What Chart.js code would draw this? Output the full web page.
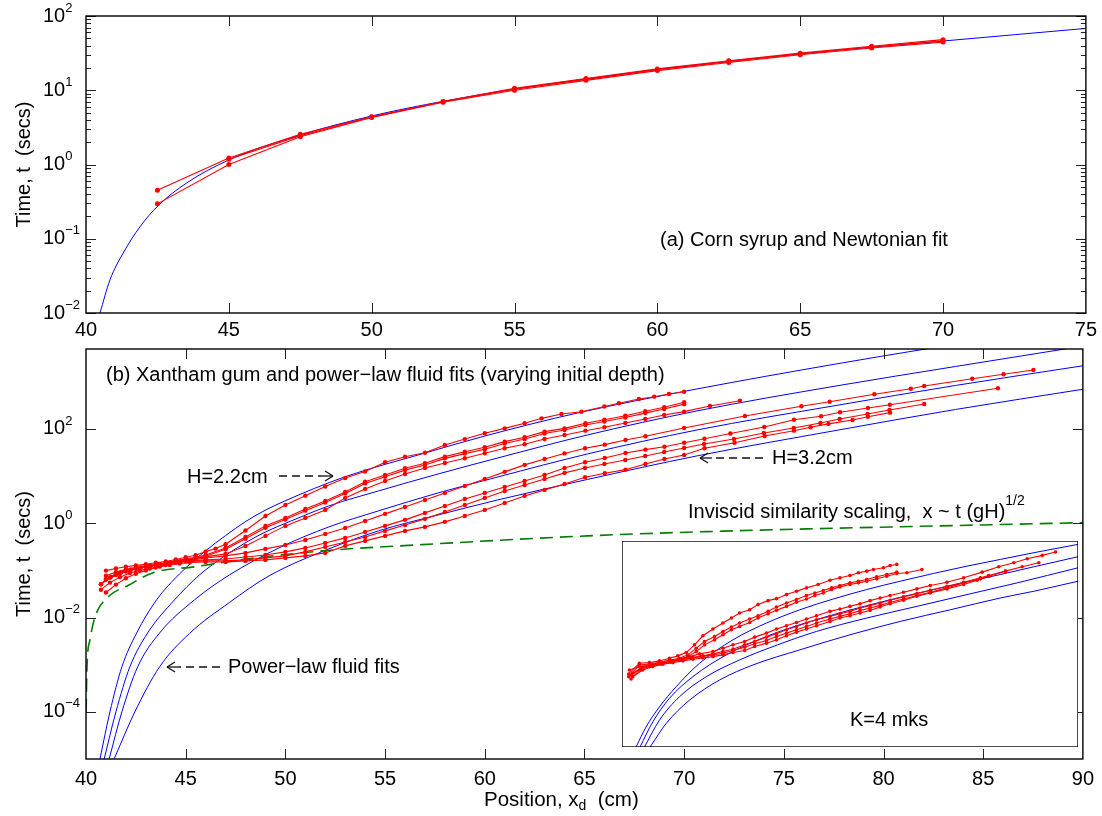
<!DOCTYPE html>
<html>
<head>
<meta charset="utf-8">
<script src="https://cdn.jsdelivr.net/npm/chart.js@4.4.1/dist/chart.umd.min.js"></script>
<style>
  body { margin: 0; background: #fff; }
  #wrap { position: relative; width: 1102px; height: 816px; }
  canvas { position: absolute; }
  #cTop { left: 0; top: 0; }
  #cBot { left: 0; top: 340px; }
  #cIn { left: 622px; top: 541px; }
</style>
</head>
<body>
<div id="wrap">
  <canvas id="cTop" width="1102" height="340"></canvas>
  <canvas id="cBot" width="1102" height="476"></canvas>
  <canvas id="cIn" width="456" height="206"></canvas>
</div>
<script>
// ---- (a) corn syrup: [position cm, time s]
const cornRunA = [[42.5,0.45],[45,1.22],[47.5,2.55],[50,4.4],[52.5,7.0],[55,10.3],[57.5,14.0],[60,18.9],[62.5,24.3],[65,30.8],[67.5,38.2],[70,46.5]];
const cornRunB = [[42.5,0.295],[45,1.0],[47.5,2.37],[50,4.3],[52.5,6.9],[55,10.0],[57.5,13.6],[60,18.4],[62.5,23.7],[65,30.0],[67.5,37.0],[70,44.5]];
const cornRunC = [[45,1.18],[47.5,2.45],[50,4.35],[52.5,7.05],[55,10.6],[57.5,14.4],[60,19.4],[62.5,25.0],[65,31.6],[67.5,39.2],[70,48.0]];
const cornFit = [[40.49,0.01],[40.84,0.028],[41.3,0.064],[41.89,0.145],[42.53,0.28],[43.52,0.563],[45,1.15],[47.5,2.5],[50,4.5],[52.5,7.1],[55,10.4],[57.5,14.2],[60,19],[62.5,24.5],[65,31],[67.5,38],[70,46],[72.5,56],[75,68]];

// ---- (b) xantham gum runs
const gumH22 = [[41.0,0.099],[41.5,0.11],[42,0.12],[42.5,0.128],[43,0.135],[43.5,0.145],[44,0.155],[44.5,0.17],[45,0.19],[45.5,0.21],[46,0.25],[46.5,0.29],[47,0.36],[48,0.7],[49,1.43],[50,2.45],[51,3.85],[52,6.0],[53,9.1],[54,12.5],[55,19.7],[56,25.8],[57,31.4],[58,45.8],[59,61],[60,81],[61,103],[62,132],[62.85,168],[63.85,208],[64.85,232],[66,300],[66.73,350],[67.73,432],[68.5,484],[69.24,552],[70,617]];
const gumB1 = [[40.75,0.051],[41,0.065],[41.5,0.085],[42,0.1],[42.5,0.11],[43,0.12],[43.5,0.13],[44,0.145],[44.5,0.16],[45,0.175],[45.5,0.19],[46,0.213],[47,0.30],[48,0.513],[49,0.88],[50,1.30],[51,2.01],[52,2.98],[53,4.62],[54,7.63],[55,10.6],[56,14.7],[57,18.7],[58,25.9],[59,33.0],[60,40.9],[61,53.8],[62,66.7],[63,87.7],[64,103],[65.05,132],[66,157],[67.05,191],[68.05,237],[69,288],[70,368]];
const gumB2 = [[41,0.063],[41.5,0.08],[42,0.095],[42.5,0.108],[43,0.118],[43.5,0.128],[44,0.14],[44.5,0.155],[45,0.17],[45.5,0.185],[46,0.2],[47,0.28],[48,0.47],[49,0.8],[50,1.2],[51,1.85],[52,2.75],[53,4.3],[54,7.0],[55,9.7],[56,13.4],[57,17.2],[58,23.8],[59,30],[60,37],[61,49],[62,61],[63,80],[64,95],[65.05,121],[66,144],[67.05,175],[68.05,217],[69,264],[70,336]];
const gumB3 = [[41,0.034],[41.5,0.05],[42,0.068],[42.5,0.085],[43,0.1],[43.5,0.115],[44,0.13],[44.5,0.148],[45,0.165],[45.5,0.18],[46,0.194],[47,0.224],[48,0.33],[49,0.54],[50,0.88],[51,1.30],[52,1.92],[53,3.45],[54,5.35],[55,7.9],[56,11.1],[57,14.9],[58,19.0],[59,23.9],[60,30.5],[61,39],[62,47.4],[63,61.4],[64,74.6],[65.05,92],[66,109],[67.05,134],[68.05,163],[69,198],[70,233],[71.3,307],[72.8,398]];
const gumC1 = [[40.75,0.051],[41.2,0.07],[41.7,0.085],[42.2,0.1],[42.7,0.112],[43.2,0.125],[43.7,0.135],[44.2,0.145],[44.7,0.155],[45.2,0.165],[46,0.184],[47,0.203],[48,0.235],[49,0.286],[50,0.347],[51,0.443],[52,0.594],[53,0.796],[54,1.12],[55,1.58],[56,2.22],[57,3.12],[58,4.40],[59,6.19],[60,8.7],[61,12.3],[62,17.3],[63,23.1],[64,30.3],[65.03,39],[66.02,46.5],[67.06,58.5],[68.06,70],[70,105],[73.05,188],[75.88,303],[77.3,379],[79.54,544],[81.37,715],[82.04,816],[84.45,1165],[86.02,1445],[87.52,1782]];
const gumC2 = [[41.25,0.073],[41.75,0.09],[42.25,0.105],[42.75,0.115],[43.25,0.125],[43.75,0.135],[44.25,0.145],[44.75,0.155],[45.25,0.16],[46,0.167],[47,0.175],[48,0.193],[49,0.213],[50,0.247],[51,0.30],[52,0.383],[53,0.489],[54,0.654],[55,0.88],[56,1.18],[57,1.66],[58,2.33],[59,3.28],[60,4.40],[61,5.9],[62,7.9],[63,10.6],[64,14.9],[65.03,19.7],[66.02,24.3],[67.06,31],[68.06,36.4],[69.01,42],[70,51],[71.02,62],[72.32,80],[74.02,110],[75.51,157],[76.87,186],[77.82,226],[79.22,279],[80.32,327],[85.74,729]];
const gumC3 = [[41,0.077],[41.5,0.092],[42,0.105],[42.5,0.115],[43,0.125],[43.5,0.133],[44,0.14],[44.5,0.148],[45,0.155],[46,0.159],[47,0.159],[48,0.167],[49,0.184],[50,0.203],[51,0.247],[52,0.315],[53,0.402],[54,0.513],[55,0.689],[56,0.92],[57,1.24],[58,1.74],[59,2.45],[60,3.45],[61,4.85],[62,6.5],[63,8.7],[64,11.7],[65.03,14.9],[66,18.1],[67.05,22],[68.05,26.8],[69,32.5],[70,39.6],[71,48],[72.5,61.4],[74,82],[75.5,105],[76.83,134],[77.8,163],[79.2,208],[80.3,253],[82.04,339]];
const gumC4 = [[40.75,0.039],[41.2,0.055],[41.7,0.072],[42.2,0.088],[42.7,0.1],[43.2,0.11],[43.7,0.12],[44.2,0.13],[44.7,0.14],[45.2,0.148],[46,0.151],[47,0.151],[48,0.159],[49,0.167],[50,0.184],[51,0.203],[52,0.235],[53,0.331],[54,0.423],[55,0.54],[56,0.689],[57,0.837],[58,1.07],[59,1.43],[60,1.92],[61,2.70],[62,3.80],[63,5.1],[64,6.8],[65.03,9.5],[66.02,11.5],[67.06,13.7],[68.06,18.1],[69.01,23.1],[70,28.1],[71.02,39],[72.53,51],[74.04,71],[75.51,92],[76.34,109],[77.24,128],[78.45,155],[79.22,182],[80.33,222]];

// power-law fits, H = 2.2 ... 3.2 cm
const fitH1 = [[40.70,1e-5],[41.20,1e-4],[41.80,9.0e-4],[42.54,4.7e-3],[43.54,0.0237],[44.69,0.0841],[45.99,0.259],[46.99,0.544],[47.98,1.07],[48.98,1.88],[49.98,2.98],[52.97,9.6],[57.02,31],[60.01,71],[64.65,218],[70.64,705],[77.62,2390],[82.12,4970],[85.61,8490]];
const fitH2 = [[40.91,1e-5],[41.50,1e-4],[42.20,9.0e-4],[43.09,4.7e-3],[44.44,0.0237],[45.69,0.080],[46.84,0.186],[47.98,0.383],[49.08,0.678],[50.18,1.07],[52.18,2.33],[54.67,4.85],[57.66,11.1],[60.66,24.3],[65.15,74.6],[70.64,241],[77.62,816],[83.61,2113],[89.10,4970],[90.6,6340]];
const fitH3 = [[41.16,1e-5],[41.80,1e-4],[42.59,9.0e-4],[43.69,4.7e-3],[45.44,0.0237],[47.19,0.080],[49.68,0.30],[52.18,0.836],[54.67,1.83],[57.66,4.40],[60.66,9.6],[65.15,29.5],[70.64,95],[77.62,315],[83.61,836],[90.1,2220]];
const fitH4 = [[41.41,1e-5],[42.45,1e-4],[43.69,9.0e-4],[45.19,4.6e-3],[47.19,0.0208],[49.18,0.0766],[52.18,0.286],[54.67,0.689],[57.66,1.50],[60.66,3.13],[65.15,8.5],[70.64,26.8],[77.62,93],[83.61,259],[90.1,705]];
const inviscid = [[40.005,1e-4],[40.05,9.0e-4],[40.2,3.4e-3],[40.45,0.0103],[41.05,0.026],[42.15,0.049],[43.34,0.0885],[45.49,0.12],[48.33,0.18],[52.47,0.272],[55.67,0.33],[65.15,0.54],[71.14,0.665],[90,1.03]];

// ---- inset, K = 4 mks
const kRun1 = [[40.73,0.0303],[41.91,0.0701],[43.0,0.0738],[44.1,0.0842],[45.2,0.104],[46.12,0.125],[47.04,0.162],[47.95,0.296],[48.87,0.601],[49.97,1.02],[51.07,1.63],[51.99,2.41],[52.9,3.57],[54.0,4.6],[54.92,6.9],[56.02,9.4],[56.94,11],[58.04,15.1],[59.13,19.6],[60.23,25.5],[61.51,33.1],[62.8,46.6],[63.9,56],[65.0,67.3],[65.92,83],[66.83,94.6],[67.57,108],[68.67,123],[69.4,147],[70.13,160]];
const kRun2 = [[40.81,0.0415],[41.91,0.054],[43.0,0.0615],[44.1,0.0738],[45.2,0.091],[46.3,0.104],[47.22,0.135],[48.14,0.228],[49.05,0.385],[50.15,0.57],[51.07,0.845],[51.99,1.19],[52.9,1.63],[54.0,2.23],[54.92,2.90],[56.02,4.07],[56.94,5.7],[58.04,7.8],[59.13,10.2],[60.23,14],[61.15,17.2],[62.07,20.7],[62.98,25.5],[63.9,30.6],[65.0,37.8],[65.92,43],[66.83,49.1],[67.93,60.6],[69.03,72.8],[70.13,87.4]];
const kRun3 = [[40.73,0.0245],[41.91,0.0615],[43.0,0.0665],[44.1,0.0758],[45.2,0.0865],[46.3,0.096],[47.22,0.118],[48.14,0.175],[49.05,0.296],[50.15,0.438],[51.07,0.65],[51.99,0.964],[52.9,1.25],[54.0,1.71],[54.92,2.41],[56.02,3.39],[56.94,4.4],[58.04,6.0],[59.13,8.3],[60.23,10.7],[61.15,14],[62.07,17.2],[62.98,22.4],[63.9,27.6],[65.0,33.1],[65.92,37.8],[66.83,43],[67.93,51.8],[69.03,63.8],[70.13,78.7],[71.23,83],[72.88,108]];
const kRun4 = [[40.99,0.0205],[41.91,0.0415],[43.0,0.054],[44.1,0.0665],[45.2,0.080],[46.3,0.096],[47.4,0.118],[48.5,0.146],[49.97,0.175],[51.07,0.228],[52.17,0.296],[53.45,0.385],[54.55,0.541],[55.84,0.741],[56.94,1.02],[58.04,1.32],[59.13,1.71],[60.23,2.23],[61.33,2.90],[62.8,4.07],[63.9,4.89],[65.0,6.0],[66.1,7.4],[67.2,9.4],[68.3,11.6],[69.4,14],[70.87,18.1],[72.33,23.6],[73.8,30.6],[75.63,39.8],[77.46,56],[79.48,87.4],[81.31,133],[82.96,182],[84.43,249],[86.08,324],[87.54,421]];
const kRun5 = [[41.17,0.0319],[42.27,0.0512],[43.37,0.0615],[44.47,0.0701],[45.57,0.0842],[46.67,0.096],[47.77,0.112],[48.87,0.125],[49.97,0.146],[51.07,0.175],[52.17,0.211],[53.45,0.296],[54.55,0.385],[55.84,0.541],[56.94,0.703],[58.04,0.964],[59.13,1.25],[60.23,1.63],[61.33,2.11],[62.8,2.75],[63.9,3.39],[65.0,4.07],[66.1,5.3],[67.2,6.35],[68.3,7.8],[69.4,9.7],[70.87,12.6],[72.33,16.3],[73.8,21.2],[75.63,29],[77.46,39.8],[79.3,56],[80.21,67.3],[82.05,94.6],[83.88,133],[85.71,182]];
const kRun6 = [[40.99,0.028],[42.09,0.0473],[43.19,0.0583],[44.29,0.0665],[45.39,0.0778],[46.49,0.091],[47.59,0.104],[48.69,0.118],[49.97,0.135],[51.07,0.154],[52.17,0.19],[53.45,0.247],[54.55,0.321],[55.84,0.417],[56.94,0.57],[58.04,0.741],[59.13,0.964],[60.23,1.25],[61.33,1.63],[62.8,2.23],[63.9,2.75],[65.0,3.39],[66.1,4.3],[67.2,5.3],[68.3,6.5],[69.4,8.3],[70.87,10.7],[72.33,14],[73.8,18.1],[75.63,25.5],[77.46,37.8],[79.3,51.8],[80.21,63.8],[82.05,94.6]];
const kRun7 = [[41.17,0.0245],[42.27,0.0415],[43.37,0.054],[44.47,0.0648],[45.57,0.0738],[46.67,0.0842],[47.77,0.096],[48.87,0.107],[49.97,0.118],[51.07,0.135],[52.17,0.162],[53.45,0.19],[54.55,0.26],[55.84,0.338],[56.94,0.438],[58.04,0.601],[59.13,0.80],[60.23,1.02],[61.33,1.32],[62.8,1.85],[63.9,2.41],[65.0,2.90],[66.1,3.57],[67.2,4.4],[68.3,5.7],[69.4,7.4],[70.87,9.7],[72.33,13.3],[73.8,17.2],[75.63,23.6],[77.46,33.1],[78.93,46.6],[80.21,63.8]];
const kFit1 = [[41.54,1e-4],[42.64,4.8e-4],[44.1,0.0023],[45.94,0.0112],[48.5,0.07],[52.17,0.44],[55.84,1.63],[59.5,4.6],[63.17,10.7],[66.83,22.4],[70.5,43],[74.16,79],[77.83,140],[81.5,237],[85.16,400],[90,769]];
const kFit2 = [[41.98,1e-4],[43.37,7.1e-4],[45.2,0.0045],[47.77,0.0245],[51.44,0.135],[55.84,0.57],[59.5,1.43],[63.17,3.13],[66.83,6.35],[70.5,12.2],[74.16,22.4],[77.83,40.8],[81.5,72.8],[85.16,133],[90,292]];
const kFit3 = [[42.46,1e-4],[44.1,8.1e-4],[46.3,0.0051],[49.24,0.0245],[52.9,0.091],[56.57,0.26],[61.33,0.845],[66.83,2.41],[72.33,6.0],[77.83,15.1],[83.33,37.8],[90,123]];
const kFit4 = [[43.08,1e-4],[44.84,6.3e-4],[47.4,0.0039],[50.7,0.0189],[54.37,0.0615],[59.5,0.2],[65.0,0.65],[70.5,1.85],[76.0,4.6],[81.5,11.6],[85.16,19.6],[90,43]];

// axis ticks
const topXTicks = [45, 50, 55, 60, 65, 70];
const botXTicks = [45, 50, 55, 60, 65, 70, 75, 80, 85];
const topYExp = [-2, -1, 0, 1, 2];
const botYExp = [-4, -2, 0, 2];
const topYMinor = [];
for (let e = -2; e < 2; e++) for (let k = 2; k < 10; k++) topYMinor.push(k * Math.pow(10, e));

const FONT = "'Liberation Sans', Arial, Helvetica, sans-serif";
Chart.defaults.font.family = FONT;
Chart.defaults.color = '#000';

function pts(arr) { return arr.map(p => ({ x: p[0], y: p[1] })); }
function redSet(arr, r) {
  return { data: pts(arr), borderColor: '#ff0000', backgroundColor: '#ff0000', borderWidth: 1.1,
           pointRadius: r, pointBorderWidth: 0, order: 1 };
}
function blueSet(arr) {
  return { data: pts(arr), borderColor: '#0000ff', borderWidth: 1, pointRadius: 0,
           cubicInterpolationMode: 'monotone', order: 3 };
}

function seg(ctx, x1, y1, x2, y2) { ctx.beginPath(); ctx.moveTo(x1, y1); ctx.lineTo(x2, y2); ctx.stroke(); }

// text with super/subscripts: parts = [text, size, dy]
function rich(ctx, parts, x, y) {
  let cx = x;
  parts.forEach(([t, size, dy]) => {
    ctx.font = size + 'px ' + FONT;
    ctx.fillText(t, cx, y + (dy || 0));
    cx += ctx.measureText(t).width;
  });
}

function arrow(ctx, tail, tip, y) {
  const d = Math.sign(tip - tail);
  ctx.save();
  ctx.strokeStyle = '#111'; ctx.lineWidth = 1.3;
  ctx.setLineDash([8, 5]);
  seg(ctx, tail, y, tip - d * 12, y);
  ctx.setLineDash([]);
  seg(ctx, tip - d * 12, y, tip, y);
  seg(ctx, tip - d * 8, y - 5, tip, y);
  seg(ctx, tip - d * 8, y + 5, tip, y);
  ctx.restore();
}

const decor = {
  id: 'decor',
  beforeDraw(chart, args, o) {
    if (!o.bg) return;
    const c = chart.ctx;
    c.save(); c.fillStyle = '#fff'; c.fillRect(0, 0, chart.width, chart.height); c.restore();
  },
  afterDraw(chart, args, o) {
    const { ctx, chartArea: a } = chart;
    const xs = chart.scales.x, ys = chart.scales.y;
    ctx.save();
    ctx.strokeStyle = '#222'; ctx.lineWidth = 1;
    (o.xTicks || []).forEach(v => {
      const p = Math.round(xs.getPixelForValue(v)) + 0.5;
      seg(ctx, p, a.bottom, p, a.bottom - 10);
      seg(ctx, p, a.top, p, a.top + 10);
    });
    (o.yMajor || []).forEach(e => {
      const p = Math.round(ys.getPixelForValue(Math.pow(10, e))) + 0.5;
      seg(ctx, a.left, p, a.left + 10, p);
      seg(ctx, a.right, p, a.right - 10, p);
    });
    (o.yMinor || []).forEach(v => {
      const p = Math.round(ys.getPixelForValue(v)) + 0.5;
      seg(ctx, a.left, p, a.left + 5, p);
      seg(ctx, a.right, p, a.right - 5, p);
    });
    if (o.box) {
      ctx.strokeStyle = '#000'; ctx.lineWidth = 1.4;
      ctx.strokeRect(a.left, a.top, a.right - a.left, a.bottom - a.top);
    }
    ctx.fillStyle = '#000'; ctx.textBaseline = 'middle'; ctx.textAlign = 'left';
    (o.yLabels || []).forEach(e => {
      const p = ys.getPixelForValue(Math.pow(10, e));
      const ex = e < 0 ? '\u2212' + (-e) : String(e);
      rich(ctx, [['10', 20, 0], [ex, 13, -8]], 43, p);
    });
    (o.texts || []).forEach(t => rich(ctx, t.parts, t.x, t.y));
    (o.arrows || []).forEach(r => arrow(ctx, r[0], r[1], r[2]));
    ctx.restore();
  }
};

function baseOpts(xmin, xmax, ymin, ymax, xh, pad, yTitle) {
  return {
    responsive: false, devicePixelRatio: 1, animation: false, events: [],
    plugins: { legend: { display: false }, tooltip: { enabled: false } },
    scales: {
      x: { type: 'linear', min: xmin, max: xmax,
           grid: { display: false, drawTicks: false }, border: { display: false },
           ticks: { stepSize: 5, font: { size: 20 }, padding: pad, maxRotation: 0, color: '#000' },
           afterFit: s => { s.height = xh; } },
      y: { type: 'logarithmic', min: ymin, max: ymax,
           grid: { display: false, drawTicks: false }, border: { display: false },
           ticks: { display: false },
           title: { display: true, text: yTitle, font: { size: 20 }, padding: { top: 12 } },
           afterFit: s => { s.width = 86; } }
    }
  };
}

// ---- top panel
const topOpts = baseOpts(40, 75, 0.01, 100, 27, 5, 'Time, t  (secs)');
topOpts.layout = { padding: { top: 16, right: 14, left: 0, bottom: 0 }, autoPadding: false };
topOpts.plugins.decor = {
  box: true, xTicks: topXTicks, yMajor: topYExp, yMinor: topYMinor, yLabels: topYExp,
  texts: [{ x: 660, y: 240, parts: [['(a) Corn syrup and Newtonian fit', 20]] }]
};
new Chart(document.getElementById('cTop'), {
  type: 'line',
  data: { datasets: [blueSet(cornFit), redSet(cornRunA, 2.5), redSet(cornRunB, 2.5), redSet(cornRunC, 2.5)] },
  options: topOpts,
  plugins: [decor]
});

// ---- bottom panel
const botOpts = baseOpts(40, 90, 1e-5, 4966, 57, 8, 'Time, t  (secs)');
botOpts.layout = { padding: { top: 9, right: 14, left: 0, bottom: 0 }, autoPadding: false };
botOpts.plugins.decor = {
  box: true, xTicks: botXTicks, yMajor: botYExp, yLabels: botYExp,
  texts: [
    { x: 106, y: 35, parts: [['(b) Xantham gum and power\u2212law fluid fits (varying initial depth)', 20]] },
    { x: 187, y: 137, parts: [['H=2.2cm', 20]] },
    { x: 772, y: 118, parts: [['H=3.2cm', 20]] },
    { x: 688, y: 172, parts: [['Inviscid similarity scaling,  x ~ t (gH)', 20], ['1/2', 14, -11]] },
    { x: 228, y: 327, parts: [['Power\u2212law fluid fits', 20]] },
    { x: 484, y: 460, parts: [['Position, x', 20.5], ['d', 14, 6], ['  (cm)', 20.5]] }
  ],
  arrows: [[279, 333, 136], [763, 700, 118], [220, 167, 327]]
};
const gumRuns = [gumH22, gumB1, gumB2, gumB3, gumC1, gumC2, gumC3, gumC4];
new Chart(document.getElementById('cBot'), {
  type: 'line',
  data: { datasets: [
    ...[fitH1, fitH2, fitH3, fitH4].map(blueSet),
    { data: pts(inviscid), borderColor: '#007f00', borderWidth: 1.6, borderDash: [13, 7], pointRadius: 0,
      cubicInterpolationMode: 'monotone', order: 2 },
    ...gumRuns.map(r => redSet(r, 2.2))
  ] },
  options: botOpts,
  plugins: [decor]
});

// ---- inset
new Chart(document.getElementById('cIn'), {
  type: 'line',
  data: { datasets: [
    ...[kFit1, kFit2, kFit3, kFit4].map(blueSet),
    ...[kRun1, kRun2, kRun3, kRun4, kRun5, kRun6, kRun7].map(r => redSet(r, 1.8))
  ] },
  options: {
    responsive: false, devicePixelRatio: 1, animation: false, events: [],
    layout: { padding: 0, autoPadding: false },
    plugins: { legend: { display: false }, tooltip: { enabled: false },
      decor: { bg: true, box: true, texts: [{ x: 228, y: 179, parts: [['K=4 mks', 20]] }] } },
    scales: {
      x: { type: 'linear', min: 40, max: 90, display: false },
      y: { type: 'logarithmic', min: 1e-4, max: 1e3, display: false }
    }
  },
  plugins: [decor]
});
</script>
</body>
</html>
